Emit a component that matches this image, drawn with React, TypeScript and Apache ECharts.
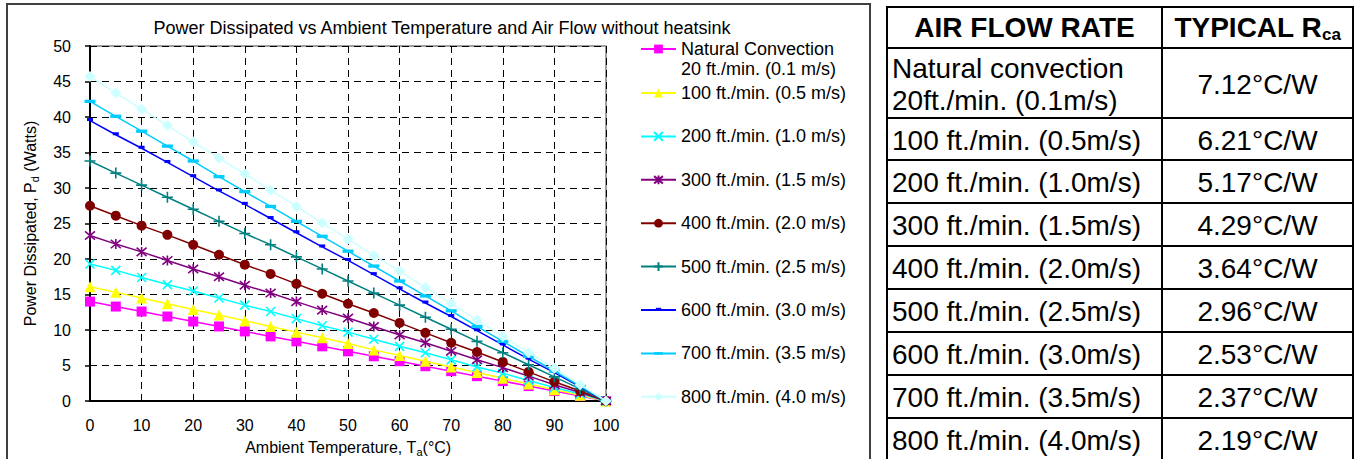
import React, { useEffect, useRef } from "react";
import * as echarts from "echarts";

// ---------- data ----------
const temperatures = [0, 5, 10, 15, 20, 25, 30, 35, 40, 45, 50, 55, 60, 65, 70, 75, 80, 85, 90, 95, 100];

const seriesNames = [
  "Natural Convection\n20 ft./min. (0.1 m/s)",
  "100 ft./min. (0.5 m/s)",
  "200 ft./min. (1.0 m/s)",
  "300 ft./min. (1.5 m/s)",
  "400 ft./min. (2.0 m/s)",
  "500 ft./min. (2.5 m/s)",
  "600 ft./min. (3.0 m/s)",
  "700 ft./min. (3.5 m/s)",
  "800 ft./min. (4.0 m/s)",
];

const naturalConvection = [14.0, 13.3, 12.6, 11.9, 11.2, 10.5, 9.8, 9.1, 8.4, 7.7, 7.0, 6.3, 5.6, 4.9, 4.2, 3.5, 2.8, 2.1, 1.4, 0.7, 0];
const flow100 = [16.1, 15.3, 14.5, 13.7, 12.9, 12.1, 11.3, 10.5, 9.7, 8.9, 8.1, 7.2, 6.4, 5.6, 4.8, 4.0, 3.2, 2.4, 1.6, 0.8, 0];
const flow200 = [19.3, 18.4, 17.4, 16.4, 15.5, 14.5, 13.5, 12.6, 11.6, 10.6, 9.7, 8.7, 7.7, 6.8, 5.8, 4.8, 3.9, 2.9, 1.9, 1.0, 0];
const flow300 = [23.3, 22.1, 21.0, 19.8, 18.6, 17.5, 16.3, 15.2, 14.0, 12.8, 11.7, 10.5, 9.3, 8.2, 7.0, 5.8, 4.7, 3.5, 2.3, 1.2, 0];
const flow400 = [27.5, 26.1, 24.7, 23.4, 22.0, 20.6, 19.2, 17.9, 16.5, 15.1, 13.7, 12.4, 11.0, 9.6, 8.2, 6.9, 5.5, 4.1, 2.7, 1.4, 0];
const flow500 = [33.8, 32.1, 30.4, 28.7, 27.0, 25.3, 23.6, 22.0, 20.3, 18.6, 16.9, 15.2, 13.5, 11.8, 10.1, 8.4, 6.8, 5.1, 3.4, 1.7, 0];
const flow600 = [39.5, 37.5, 35.6, 33.6, 31.6, 29.6, 27.7, 25.7, 23.7, 21.7, 19.8, 17.8, 15.8, 13.8, 11.9, 9.9, 7.9, 5.9, 4.0, 2.0, 0];
const flow700 = [42.2, 40.1, 38.0, 35.9, 33.8, 31.6, 29.5, 27.4, 25.3, 23.2, 21.1, 19.0, 16.9, 14.8, 12.7, 10.5, 8.4, 6.3, 4.2, 2.1, 0];
const flow800 = [45.7, 43.4, 41.1, 38.8, 36.5, 34.2, 32.0, 29.7, 27.4, 25.1, 22.8, 20.5, 18.3, 16.0, 13.7, 11.4, 9.1, 6.8, 4.6, 2.3, 0];

const seriesValues = [naturalConvection, flow100, flow200, flow300, flow400, flow500, flow600, flow700, flow800];

const tableHeaders = ["AIR FLOW RATE", "TYPICAL R"];
const airFlowRates = [
  "Natural convection\n20ft./min. (0.1m/s)",
  "100 ft./min. (0.5m/s)",
  "200 ft./min. (1.0m/s)",
  "300 ft./min. (1.5m/s)",
  "400 ft./min. (2.0m/s)",
  "500 ft./min. (2.5m/s)",
  "600 ft./min. (3.0m/s)",
  "700 ft./min. (3.5m/s)",
  "800 ft./min. (4.0m/s)",
];
const typicalRca = ["7.12°C/W", "6.21°C/W", "5.17°C/W", "4.29°C/W", "3.64°C/W", "2.96°C/W", "2.53°C/W", "2.37°C/W", "2.19°C/W"];

// ---------- styles ----------
const FONT = "'Liberation Sans', Arial, sans-serif";
const colors = ["#FF00FF", "#FFFF00", "#00FFFF", "#800080", "#800000", "#008080", "#0000FF", "#00CCFF", "#CCFFFF"];
const symbols = [
  "rect",
  "triangle",
  "path://M0,0L10,10M10,0L0,10",
  "path://M0,0L10,10M10,0L0,10M5,-1L5,11",
  "circle",
  "path://M5,0L5,10M0,5L10,5",
  "path://M0,0M10,10M2,2.5H8V5.5H2Z",
  "path://M0,0M10,10M0,3.5H10V6.5H0Z",
  "diamond",
];
const symbolSizes = [10, 11, 9, 10, 10, 11, 10, 11, 11];
const strokeSymbols = [false, false, true, true, false, true, false, false, false];

const tableCols = [887, 1162, 1353];
const tableRows = [7, 48, 118, 160, 203, 246, 289, 332, 375, 418, 461];

export default function App() {
  const ref = useRef<HTMLDivElement>(null);

  useEffect(() => {
    if (!ref.current) return;
    const chart = echarts.init(ref.current, null, { renderer: "svg" });

    const series = seriesNames.map((name, i) => ({
      name,
      type: "line",
      data: temperatures.map((t, k) => [t, seriesValues[i][k]]),
      symbol: symbols[i],
      symbolSize: symbolSizes[i],
      showAllSymbol: true,
      lineStyle: { color: colors[i], width: 1.5 },
      itemStyle: strokeSymbols[i]
        ? { color: colors[i], borderColor: colors[i], borderWidth: 1.6 }
        : { color: colors[i], borderWidth: 0 },
      emphasis: { disabled: true },
      z: 2 + i,
    }));

    const graphic: any[] = [];
    graphic.push({
      type: "rect",
      shape: { x: 7, y: 4, width: 863, height: 470 },
      style: { fill: "none", stroke: "#404040", lineWidth: 2 },
      silent: true,
    });
    tableRows.forEach((y) => {
      graphic.push({
        type: "line",
        shape: { x1: tableCols[0] - 1, y1: y, x2: tableCols[2] + 1, y2: y },
        style: { stroke: "#000", lineWidth: 2 },
        silent: true,
      });
    });
    tableCols.forEach((x) => {
      graphic.push({
        type: "line",
        shape: { x1: x, y1: tableRows[0], x2: x, y2: tableRows[tableRows.length - 1] },
        style: { stroke: "#000", lineWidth: 2 },
        silent: true,
      });
    });
    const midY0 = (tableRows[0] + tableRows[1]) / 2;
    graphic.push({
      type: "text",
      x: (tableCols[0] + tableCols[1]) / 2,
      y: midY0,
      style: {
        text: tableHeaders[0],
        fontSize: 28,
        fontWeight: "bold",
        fontFamily: FONT,
        fill: "#000",
        align: "center",
        verticalAlign: "middle",
      },
      silent: true,
    });
    graphic.push({
      type: "text",
      x: (tableCols[1] + tableCols[2]) / 2,
      y: midY0,
      style: {
        text: "{b|" + tableHeaders[1] + "}{s|ca}",
        fontFamily: FONT,
        fill: "#000",
        align: "center",
        verticalAlign: "middle",
        rich: {
          b: { fontSize: 28, fontWeight: "bold", fontFamily: FONT, lineHeight: 30, verticalAlign: "middle" },
          s: { fontSize: 17, fontWeight: "bold", fontFamily: FONT, lineHeight: 30, verticalAlign: "bottom", padding: [10, 0, 0, 0] },
        },
      },
      silent: true,
    });
    airFlowRates.forEach((label, i) => {
      const cy = (tableRows[i + 1] + tableRows[i + 2]) / 2 + 1;
      graphic.push({
        type: "text",
        x: tableCols[0] + 5,
        y: cy,
        style: {
          text: label,
          fontSize: 28,
          fontFamily: FONT,
          fill: "#000",
          align: "left",
          verticalAlign: "middle",
          lineHeight: 32,
        },
        silent: true,
      });
      graphic.push({
        type: "text",
        x: (tableCols[1] + tableCols[2]) / 2,
        y: cy,
        style: {
          text: typicalRca[i],
          fontSize: 28,
          fontFamily: FONT,
          fill: "#000",
          align: "center",
          verticalAlign: "middle",
        },
        silent: true,
      });
    });

    const legendText = { fontSize: 18, fontFamily: FONT, color: "#000", lineHeight: 20 };

    chart.setOption({
      animation: false,
      backgroundColor: "#fff",
      title: {
        text: "Power Dissipated vs Ambient Temperature and Air Flow without heatsink",
        left: 437,
        top: 14,
        textAlign: "center",
        textStyle: { fontSize: 18, fontWeight: "normal", fontFamily: FONT, color: "#000" },
      },
      grid: {
        left: 90,
        top: 46,
        width: 516,
        height: 355,
        show: true,
        borderColor: "#808080",
        borderWidth: 1.5,
        backgroundColor: "transparent",
        containLabel: false,
        outerBoundsMode: "none",
      },
      legend: [
        {
          data: [seriesNames[0]],
          left: 640,
          top: 19,
          padding: 0,
          itemWidth: 35,
          itemHeight: 11,
          selectedMode: false,
          formatter: (name: string) => "\n" + name,
          textStyle: legendText,
        },
        {
          data: seriesNames.slice(1),
          orient: "vertical",
          left: 640,
          top: 83,
          padding: 0,
          itemGap: 23.4,
          itemWidth: 35,
          itemHeight: 11,
          selectedMode: false,
          textStyle: legendText,
        },
      ],
      xAxis: {
        type: "value",
        min: 0,
        max: 100,
        interval: 10,
        name: "Ambient Temperature, T{sub|a}(°C)",
        nameLocation: "middle",
        nameGap: 36,
        nameTextStyle: {
          fontSize: 16,
          fontFamily: FONT,
          color: "#000",
          lineHeight: 20,
          rich: { sub: { fontSize: 11, fontFamily: FONT, color: "#000", verticalAlign: "bottom", lineHeight: 20, padding: [8, 0, 0, 0] } },
        },
        axisLine: { show: true, lineStyle: { color: "#000", width: 2 } },
        axisTick: { show: false },
        axisLabel: { fontSize: 16, fontFamily: FONT, color: "#000", margin: 16 },
        splitLine: { show: true, lineStyle: { color: "#000", width: 1, type: [7, 5] } },
      },
      yAxis: {
        type: "value",
        min: 0,
        max: 50,
        interval: 5,
        name: "Power Dissipated, P{sub|d} (Watts)",
        nameLocation: "middle",
        nameGap: 50,
        nameRotate: 90,
        nameTextStyle: {
          fontSize: 16,
          fontFamily: FONT,
          color: "#000",
          lineHeight: 20,
          rich: { sub: { fontSize: 11, fontFamily: FONT, color: "#000", verticalAlign: "bottom", lineHeight: 20, padding: [8, 0, 0, 0] } },
        },
        axisLine: { show: true, lineStyle: { color: "#000", width: 2 } },
        axisTick: { show: true, inside: false, length: 5, lineStyle: { color: "#000", width: 1.5 } },
        axisLabel: { fontSize: 16, fontFamily: FONT, color: "#000", margin: 19 },
        splitLine: { show: true, lineStyle: { color: "#000", width: 1, type: [7, 5] } },
      },
      graphic,
      series,
    });

    return () => chart.dispose();
  }, []);

  return (
    <div
      ref={ref}
      style={{ position: "absolute", left: 0, top: 0, width: 1355, height: 459, background: "#fff" }}
    />
  );
}
